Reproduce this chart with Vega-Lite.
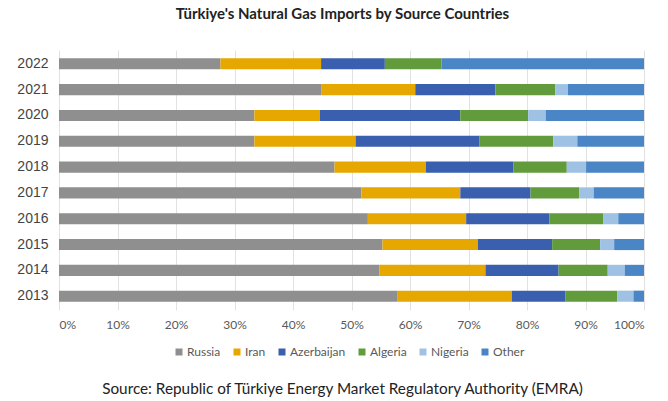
{
  "$schema": "https://vega.github.io/schema/vega-lite/v6.json",
  "autosize": "none",
  "width": 585,
  "height": 260,
  "padding": {"left": 59, "top": 50, "right": 24, "bottom": 91},
  "background": "white",
  "title": {
    "text": "Türkiye's Natural Gas Imports by Source Countries",
    "font": "Lato",
    "fontSize": 15,
    "fontWeight": "bold",
    "color": "#222222",
    "anchor": "middle",
    "dx": -9,
    "offset": 28
  },
  "data": {
    "values": [
      {"year": "2022", "source": "Russia", "share": 27.6},
      {"year": "2022", "source": "Iran", "share": 17.2},
      {"year": "2022", "source": "Azerbaijan", "share": 10.9},
      {"year": "2022", "source": "Algeria", "share": 9.7},
      {"year": "2022", "source": "Nigeria", "share": 0},
      {"year": "2022", "source": "Other", "share": 34.6},
      {"year": "2021", "source": "Russia", "share": 44.9},
      {"year": "2021", "source": "Iran", "share": 16.0},
      {"year": "2021", "source": "Azerbaijan", "share": 13.7},
      {"year": "2021", "source": "Algeria", "share": 10.2},
      {"year": "2021", "source": "Nigeria", "share": 2.2},
      {"year": "2021", "source": "Other", "share": 13.0},
      {"year": "2020", "source": "Russia", "share": 33.4},
      {"year": "2020", "source": "Iran", "share": 11.2},
      {"year": "2020", "source": "Azerbaijan", "share": 24.0},
      {"year": "2020", "source": "Algeria", "share": 11.6},
      {"year": "2020", "source": "Nigeria", "share": 3.0},
      {"year": "2020", "source": "Other", "share": 16.8},
      {"year": "2019", "source": "Russia", "share": 33.4},
      {"year": "2019", "source": "Iran", "share": 17.3},
      {"year": "2019", "source": "Azerbaijan", "share": 21.2},
      {"year": "2019", "source": "Algeria", "share": 12.6},
      {"year": "2019", "source": "Nigeria", "share": 4.1},
      {"year": "2019", "source": "Other", "share": 11.4},
      {"year": "2018", "source": "Russia", "share": 47.1},
      {"year": "2018", "source": "Iran", "share": 15.6},
      {"year": "2018", "source": "Azerbaijan", "share": 15.0},
      {"year": "2018", "source": "Algeria", "share": 9.1},
      {"year": "2018", "source": "Nigeria", "share": 3.3},
      {"year": "2018", "source": "Other", "share": 9.9},
      {"year": "2017", "source": "Russia", "share": 51.7},
      {"year": "2017", "source": "Iran", "share": 16.9},
      {"year": "2017", "source": "Azerbaijan", "share": 12.0},
      {"year": "2017", "source": "Algeria", "share": 8.3},
      {"year": "2017", "source": "Nigeria", "share": 2.5},
      {"year": "2017", "source": "Other", "share": 8.6},
      {"year": "2016", "source": "Russia", "share": 52.8},
      {"year": "2016", "source": "Iran", "share": 16.8},
      {"year": "2016", "source": "Azerbaijan", "share": 14.2},
      {"year": "2016", "source": "Algeria", "share": 9.2},
      {"year": "2016", "source": "Nigeria", "share": 2.6},
      {"year": "2016", "source": "Other", "share": 4.4},
      {"year": "2015", "source": "Russia", "share": 55.3},
      {"year": "2015", "source": "Iran", "share": 16.3},
      {"year": "2015", "source": "Azerbaijan", "share": 12.7},
      {"year": "2015", "source": "Algeria", "share": 8.2},
      {"year": "2015", "source": "Nigeria", "share": 2.4},
      {"year": "2015", "source": "Other", "share": 5.1},
      {"year": "2014", "source": "Russia", "share": 54.8},
      {"year": "2014", "source": "Iran", "share": 18.1},
      {"year": "2014", "source": "Azerbaijan", "share": 12.5},
      {"year": "2014", "source": "Algeria", "share": 8.4},
      {"year": "2014", "source": "Nigeria", "share": 2.9},
      {"year": "2014", "source": "Other", "share": 3.3},
      {"year": "2013", "source": "Russia", "share": 57.9},
      {"year": "2013", "source": "Iran", "share": 19.5},
      {"year": "2013", "source": "Azerbaijan", "share": 9.2},
      {"year": "2013", "source": "Algeria", "share": 8.8},
      {"year": "2013", "source": "Nigeria", "share": 2.8},
      {"year": "2013", "source": "Other", "share": 1.8}
    ]
  },
  "transform": [
    {"calculate": "indexof(['Russia','Iran','Azerbaijan','Algeria','Nigeria','Other'], datum.source)", "as": "stackOrder"}
  ],
  "mark": {"type": "bar"},
  "encoding": {
    "y": {
      "field": "year",
      "type": "ordinal",
      "sort": "descending",
      "scale": {"paddingInner": 0.57, "paddingOuter": 0.32},
      "axis": {
        "title": null,
        "domain": false,
        "ticks": false,
        "grid": false,
        "labelFont": "Liberation Sans",
        "labelFontSize": 14,
        "labelColor": "#444444",
        "labelPadding": 11
      }
    },
    "x": {
      "field": "share",
      "type": "quantitative",
      "stack": "normalize",
      "scale": {"domain": [0, 1], "nice": false},
      "axis": {
        "values": [0, 0.1, 0.2, 0.3, 0.4, 0.5, 0.6, 0.7, 0.8, 0.9, 1],
        "format": ".0%",
        "domain": false,
        "ticks": false,
        "grid": true,
        "gridColor": "#e2e2e2",
        "gridWidth": 1,
        "labelFont": "Lato",
        "labelFontSize": 12,
        "labelColor": "#595959",
        "labelPadding": 9,
        "title": "Source: Republic of Türkiye Energy Market Regulatory Authority (EMRA)",
        "titleFont": "Lato",
        "titleFontSize": 15.3,
        "titleFontWeight": "normal",
        "titleColor": "#222222",
        "titleBaseline": "alphabetic",
        "titleX": 283,
        "titleY": 83
      }
    },
    "color": {
      "field": "source",
      "type": "nominal",
      "scale": {
        "domain": ["Russia", "Iran", "Azerbaijan", "Algeria", "Nigeria", "Other"],
        "range": ["#8f8f8f", "#e6a800", "#3a5fae", "#619b3c", "#9fc1e4", "#4a85c6"]
      },
      "legend": {
        "title": null,
        "orient": "none",
        "direction": "horizontal",
        "legendX": 114,
        "legendY": 296,
        "symbolType": "square",
        "symbolSize": 49,
        "symbolStrokeWidth": 0,
        "labelFont": "Lato",
        "labelFontSize": 12,
        "labelColor": "#595959",
        "labelOffset": 2,
        "columnPadding": 10
      }
    },
    "order": {"field": "stackOrder", "type": "quantitative"}
  },
  "config": {
    "view": {"stroke": null}
  }
}
